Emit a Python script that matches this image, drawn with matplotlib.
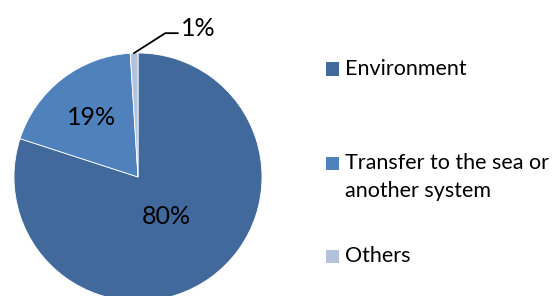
import matplotlib.pyplot as plt
from matplotlib.patches import Rectangle
import numpy as np

plt.rcParams['font.family'] = ['Lato', 'DejaVu Sans']

# data
categories = ['Environment', 'Transfer to the sea or\nanother system', 'Others']
shares = [80, 19, 1]
pct_labels = ['80%', '19%', '1%']
colors = ['#41699B', '#4F81BD', '#B3C2DD']

W, H = 559, 296
fig = plt.figure(figsize=(W / 100, H / 100), dpi=100)

# pie axes: centre (138, 177) px, radius 124 px
cx, cy, r = 138, 177, 124
ax = fig.add_axes([(cx - r) / W, (H - cy - r) / H, 2 * r / W, 2 * r / H])
wedges, _ = ax.pie(shares, colors=colors, startangle=90, counterclock=False,
                   radius=1, wedgeprops=dict(edgecolor='white', linewidth=0.6))
ax.set_xlim(-1, 1)
ax.set_ylim(-1, 1)
ax.set_aspect('auto')
ax.axis('off')

# label distances from centre (fraction of radius)
label_dist = [0.39, 0.61]
for w, lab, d in zip(wedges[:2], pct_labels[:2], label_dist):
    ang = np.deg2rad((w.theta1 + w.theta2) / 2)
    ax.text(d * np.cos(ang), d * np.sin(ang), lab, ha='center', va='center',
            fontsize=18, color='black')

# small slice with leader line
w = wedges[2]
ang = np.deg2rad((w.theta1 + w.theta2) / 2)
p0 = (np.cos(ang), np.sin(ang))
ax.plot([p0[0], 0.22, 0.32], [p0[1], 1.16, 1.16], color='black', lw=1.3, clip_on=False)
ax.text(0.35, 1.20, pct_labels[2], ha='left', va='center', fontsize=18, clip_on=False)

# legend
legend_y = [69, 163, 256]
for lab, col, y in zip(categories, colors, legend_y):
    fig.patches.append(Rectangle((326 / W, (H - y - 6.5) / H), 13 / W, 13 / H,
                                 transform=fig.transFigure, facecolor=col, edgecolor='none'))
    for i, line in enumerate(lab.split('\n')):
        fig.text(345 / W, (H - y - 28 * i) / H, line, ha='left', va='center',
                 fontsize=15.5)

fig.savefig('out.png', dpi=100)
